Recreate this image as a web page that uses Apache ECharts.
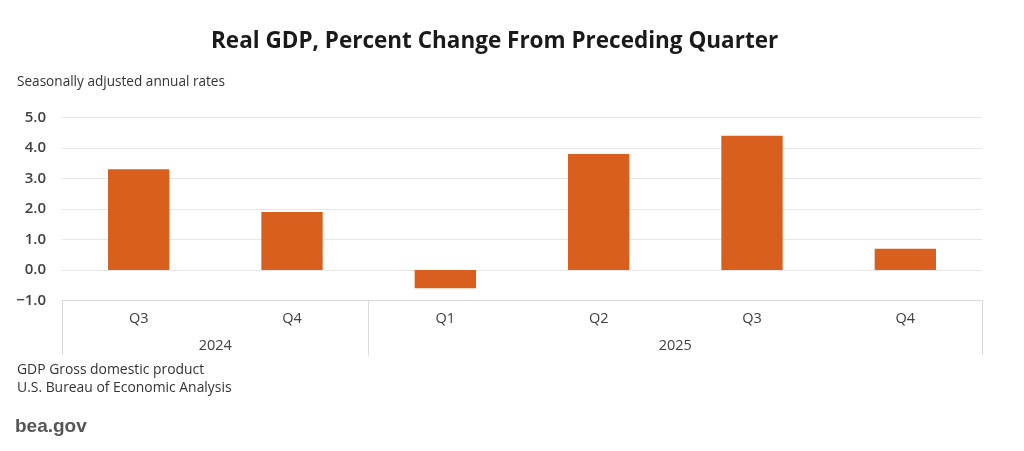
<!DOCTYPE html>
<html>
<head>
<meta charset="utf-8">
<script src="https://cdn.jsdelivr.net/npm/echarts@6/dist/echarts.min.js"></script>
<style>
  html, body { margin: 0; padding: 0; background: #fff; }
  #chart { width: 1024px; height: 451px; }
</style>
</head>
<body>
<div id="chart"></div>
<script>
// data
const quarters = ['Q3', 'Q4', 'Q1', 'Q2', 'Q3', 'Q4'];
const quarterYears = ['2024', '2024', '2025', '2025', '2025', '2025'];
const gdpChange = [3.3, 1.9, -0.6, 3.8, 4.4, 0.7];
const yTicks = [-1, 0, 1, 2, 3, 4, 5];

const chart = echarts.init(document.getElementById('chart'));

// year groups: boundaries + centres worked out from quarterYears
const years = [];
const groupStart = [];
const groupEnd = [];
quarterYears.forEach((y, i) => {
  if (years[years.length - 1] !== y) {
    years.push(y);
    groupStart.push(i);
  }
  groupEnd[years.length - 1] = i + 1;
});
const yearCentres = years.map((y, k) => (groupStart[k] + groupEnd[k]) / 2);
const yearBounds = [0].concat(groupEnd);

const font = '"Open Sans", Lato, sans-serif';
const gray = '#d9d9d9';

const options = {
  animation: false,
  backgroundColor: '#fff',
  textStyle: { fontFamily: font },
  title: {
    text: 'Real GDP, Percent Change From Preceding Quarter',
    left: 206,
    top: 25,
    textStyle: { fontFamily: font, fontSize: 22.5, fontWeight: 'bold', color: '#1a1a1a' }
  },
  graphic: [
    { type: 'text', left: 17, top: 75, style: { text: 'Seasonally adjusted annual rates', font: '13.6px ' + font, fill: '#333' } },
    { type: 'text', left: 17, top: 363, style: { text: 'GDP Gross domestic product', font: '13.9px ' + font, fill: '#333' } },
    { type: 'text', left: 17, top: 381, style: { text: 'U.S. Bureau of Economic Analysis', font: '13.9px ' + font, fill: '#333' } },
    { type: 'text', left: 15, top: 417, style: { text: 'bea.gov', font: 'bold 19px "Liberation Sans", Arial, sans-serif', fill: '#555' } }
  ],
  grid: { left: 62, right: 42, top: 117.5, bottom: 150.5 },
  xAxis: [
    {
      type: 'category',
      data: quarters.map((q, i) => quarterYears[i] + ' ' + q),
      position: 'bottom',
      axisLine: { onZero: false, lineStyle: { color: gray } },
      axisTick: { show: false },
      axisLabel: {
        formatter: v => v.split(' ')[1],
        color: '#404040', fontSize: 14.5, margin: 11, fontFamily: font
      }
    },
    {
      type: 'value',
      min: 0,
      max: quarters.length,
      position: 'bottom',
      splitLine: { show: false },
      axisLine: { show: false, onZero: false },
      axisTick: {
        show: true,
        customValues: yearBounds,
        length: 55,
        lineStyle: { color: gray }
      },
      axisLabel: {
        customValues: yearCentres,
        formatter: v => years[yearCentres.indexOf(v)],
        color: '#404040', fontSize: 14.5, margin: 38, fontFamily: font
      }
    }
  ],
  yAxis: {
    type: 'value',
    min: yTicks[0],
    max: yTicks[yTicks.length - 1],
    interval: 1,
    axisLine: { show: false },
    axisTick: { show: false },
    splitLine: { lineStyle: { color: '#e6e6e6' } },
    axisLabel: {
      formatter: v => (v < 0 ? '\u2212' + Math.abs(v).toFixed(1) : v.toFixed(1)),
      color: '#404040', fontSize: 15, fontWeight: 600, margin: 16, fontFamily: font
    }
  },
  series: [{
    type: 'bar',
    data: gdpChange,
    barWidth: '40%',
    itemStyle: { color: '#d95f1e' }
  }]
};
chart.setOption(options);
</script>
</body>
</html>
